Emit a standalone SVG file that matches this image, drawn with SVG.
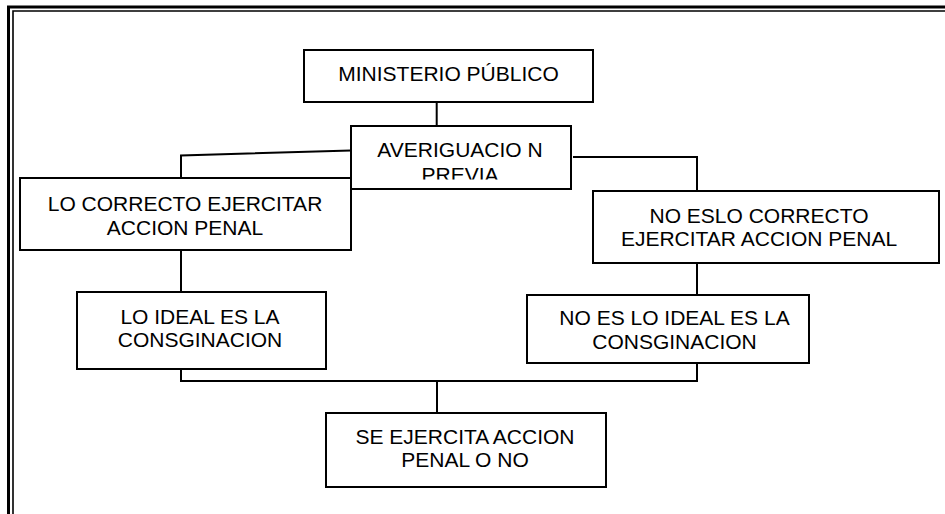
<svg xmlns="http://www.w3.org/2000/svg" width="945" height="514" viewBox="0 0 945 514">
<style>
.box{fill:#fff;stroke:#000;stroke-width:2}
.t{font-family:"Liberation Sans",Arial,sans-serif;font-size:21px;fill:#000;text-anchor:middle}
.c{fill:none;stroke:#000;stroke-width:2}
</style>
<defs>
<clipPath id="clipAv"><rect x="351" y="126" width="220" height="53.5"/></clipPath>
</defs>
<rect x="0" y="0" width="945" height="514" fill="#fff"/>
<g id="border" fill="none" stroke="#000">
<path d="M8.5 514 V7 H945" stroke-width="3"/>
<path d="M13 514 V11 H945" stroke-width="1.6"/>
</g>
<g id="connectors" class="c">
<path class="c" d="M436.7 102 V126"/>
<path class="c" d="M351 150.5 L181 155.5 V178"/>
<path class="c" d="M573 157 H697 V191"/>
<path class="c" d="M181 250 V292"/>
<path class="c" d="M697 263 V295"/>
<path class="c" d="M181 369 V381 H697 V363"/>
<path class="c" d="M437 381 V413"/>
</g>
<g id="ministerio">
<rect class="box" x="304" y="50" width="289" height="52"/>
<text class="t" x="448.5" y="81">MINISTERIO PÚBLICO</text>
</g>
<g id="averiguacion">
<rect class="box" x="351" y="126" width="220" height="63"/>
<g clip-path="url(#clipAv)">
<text class="t" x="460" y="157">AVERIGUACIO N</text>
<text class="t" x="460" y="181.5">PREVIA</text>
</g>
</g>
<g id="lo-correcto">
<rect class="box" x="20" y="178" width="331" height="72"/>
<text class="t" x="185" y="211">LO CORRECTO EJERCITAR</text>
<text class="t" x="185" y="234.5">ACCION PENAL</text>
</g>
<g id="no-eslo-correcto">
<rect class="box" x="593" y="191" width="346" height="72"/>
<text class="t" x="759" y="222.5">NO ESLO CORRECTO</text>
<text class="t" x="759" y="246">EJERCITAR ACCION PENAL</text>
</g>
<g id="lo-ideal">
<rect class="box" x="77" y="292" width="249" height="77"/>
<text class="t" x="200" y="323.5">LO IDEAL ES LA</text>
<text class="t" x="200" y="347">CONSGINACION</text>
</g>
<g id="no-es-lo-ideal">
<rect class="box" x="527" y="295" width="282" height="68"/>
<text class="t" x="674.5" y="325">NO ES LO IDEAL ES LA</text>
<text class="t" x="674.5" y="349">CONSGINACION</text>
</g>
<g id="se-ejercita">
<rect class="box" x="326" y="413" width="280" height="74"/>
<text class="t" x="465" y="443.5">SE EJERCITA ACCION</text>
<text class="t" x="465" y="467">PENAL O NO</text>
</g>
</svg>
